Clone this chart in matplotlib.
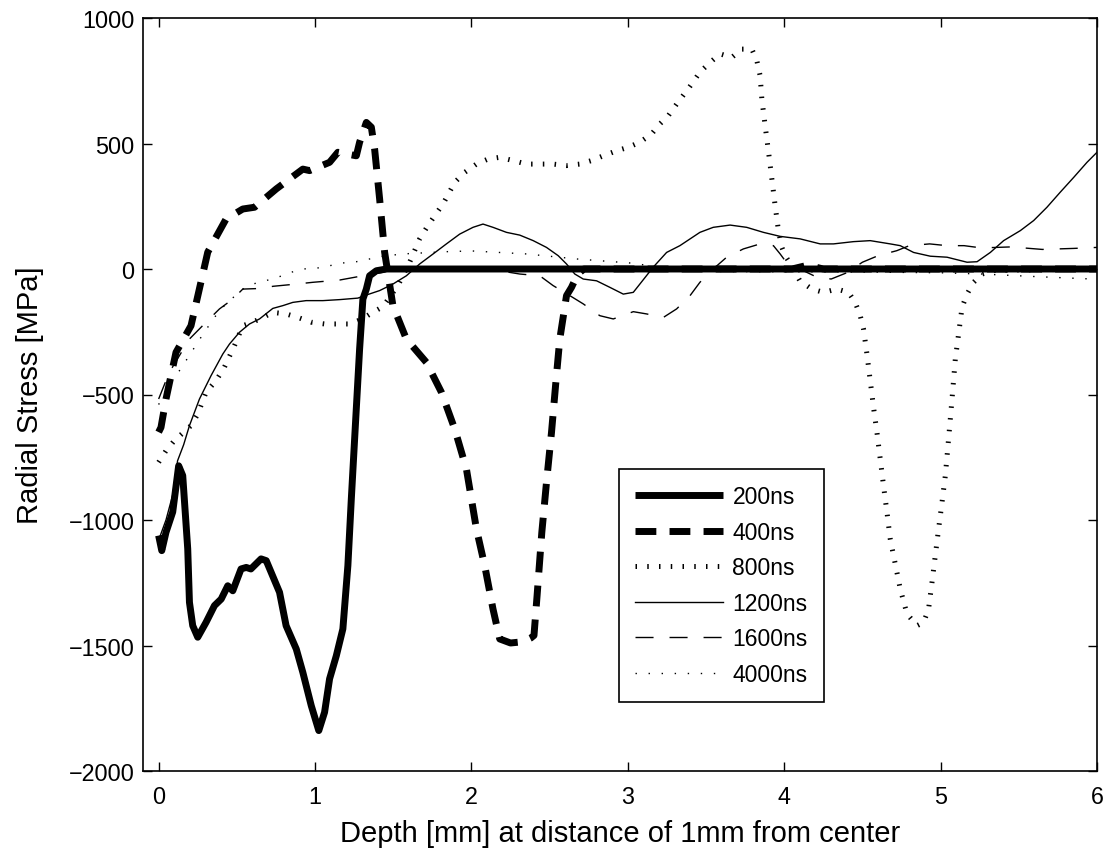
import matplotlib
matplotlib.use("Agg")
import matplotlib.pyplot as plt

plt.rcParams['font.family'] = ['Liberation Sans', 'DejaVu Sans']

# 200ns
x200 = [0, 0.02, 0.047, 0.09, 0.128, 0.154, 0.186, 0.197, 0.218, 0.25, 0.303, 0.357, 0.40, 0.442, 0.474,
        0.527, 0.56, 0.59, 0.655, 0.688, 0.773, 0.815, 0.88, 0.922, 0.976, 1.024, 1.061, 1.093, 1.136,
        1.178, 1.21, 1.232, 1.26, 1.285, 1.306, 1.328, 1.349, 1.392, 1.456, 2.0, 3.0, 4.0, 5.0, 6.0]
y200 = [-1062, -1122, -1049, -968, -784, -823, -1115, -1328, -1421, -1467, -1408, -1341, -1315, -1262, -1282,
        -1195, -1189, -1195, -1155, -1162, -1288, -1421, -1514, -1607, -1740, -1839, -1766, -1633, -1541,
        -1434, -1182, -916, -600, -319, -120, -80, -27, -7, 0, 0, 0, 0, 0, 0]

# 400ns
x400 = [0, 0.015, 0.047, 0.111, 0.207, 0.314, 0.431, 0.538, 0.613, 0.752, 0.922, 0.965, 1.093, 1.146,
        1.264, 1.285, 1.328, 1.36, 1.381, 1.413, 1.445, 1.498, 1.584, 1.712, 1.808, 1.893, 1.968, 2.032,
        2.085, 2.138, 2.181, 2.25, 2.33, 2.38, 2.40, 2.42, 2.45, 2.48, 2.512, 2.54, 2.565, 2.608, 2.64,
        2.68, 2.72, 3.0, 4.05, 4.15, 4.25, 6.0]
y400 = [-650, -631, -518, -332, -226, 67, 199, 239, 246, 319, 398, 392, 425, 465,
        451, 505, 584, 565, 478, 279, 67, -146, -279, -372, -491, -637, -797, -1036,
        -1182, -1355, -1474, -1490, -1485, -1470, -1460, -1300, -1050, -850, -651, -450, -279, -106, -73,
        -20, 0, 0, 0, 15, 0, 0]

# 800ns
x800 = [0, 0.047, 0.1, 0.207, 0.25, 0.303, 0.367, 0.42, 0.485, 0.538, 0.602, 0.666, 0.73, 0.815, 0.89,
        0.976, 1.061, 1.146, 1.221, 1.30, 1.36, 1.434, 1.53, 1.605, 1.669, 1.722, 1.765, 1.818, 1.893,
        1.957, 2.032, 2.106, 2.181, 2.266, 2.352, 2.437, 2.522, 2.608, 2.693, 2.768, 2.843, 2.928, 3.003,
        3.077, 3.152, 3.205, 3.259, 3.312, 3.40, 3.461, 3.526, 3.59, 3.665, 3.729, 3.793, 3.825, 3.846,
        3.857, 3.878, 3.9, 3.921, 3.942, 3.963, 3.985, 4.006, 4.05, 4.1, 4.177, 4.251, 4.337, 4.411,
        4.454, 4.486, 4.507, 4.529, 4.55, 4.571, 4.593, 4.614, 4.635, 4.657, 4.678, 4.71, 4.742, 4.785,
        4.849, 4.891, 4.923, 4.945, 4.966, 4.987, 5.009, 5.03, 5.051, 5.073, 5.094, 5.115, 5.137, 5.169,
        5.211, 5.265, 5.35, 6.0]
y800 = [-770, -724, -684, -624, -578, -491, -445, -392, -305, -226, -212, -193, -173, -179, -193,
        -212, -219, -219, -219, -200, -176, -150, -66, 27, 120, 173, 212, 259, 345,
        385, 418, 438, 445, 432, 418, 418, 418, 412, 418, 432, 451, 471, 485,
        505, 538, 578, 611, 657, 730, 784, 823, 857, 843, 876, 876, 830, 770,
        677, 571, 465, 359, 252, 153, 86, 53, 10, -47, -80, -93, -80, -93,
        -133, -186, -239, -339, -445, -551, -651, -757, -863, -969, -1076, -1175, -1275, -1374,
        -1421, -1408, -1355, -1248, -1142, -1036, -930, -824, -677, -518, -359, -259, -153, -100,
        -53, -20, -5, 0]

# 1200ns
x1200 = [0, 0.047, 0.09, 0.121, 0.16, 0.197, 0.261, 0.335, 0.41, 0.453, 0.517, 0.581, 0.645, 0.73, 0.794,
         0.858, 0.943, 1.05, 1.157, 1.274, 1.317, 1.413, 1.498, 1.584, 1.669, 1.755, 1.84, 1.925, 2.01,
         2.074, 2.138, 2.224, 2.309, 2.395, 2.48, 2.555, 2.608, 2.661, 2.715, 2.8, 2.885, 2.971, 3.035,
         3.077, 3.162, 3.248, 3.333, 3.461, 3.546, 3.654, 3.76, 3.867, 3.974, 4.102, 4.23, 4.315, 4.443,
         4.55, 4.678, 4.742, 4.827, 4.934, 5.041, 5.169, 5.233, 5.318, 5.403, 5.51, 5.595, 5.68, 5.765,
         5.851, 5.936, 6.0]
y1200 = [-1080, -1000, -900, -764, -700, -624, -518, -425, -339, -299, -252, -219, -199, -157, -146,
         -133, -126, -126, -122, -116, -106, -86, -60, -27, 20, 60, 100, 139, 166,
         179, 166, 146, 135, 113, 86, 53, 20, -20, -40, -47, -73, -100, -93,
         -60, 7, 66, 93, 146, 166, 175, 166, 146, 130, 120, 100, 100, 109,
         113, 100, 93, 66, 51, 47, 27, 29, 66, 113, 153, 193, 246, 306,
         365, 425, 465]

# 1600ns
x1600 = [0, 0.068, 0.197, 0.303, 0.389, 0.474, 0.538, 0.677, 0.73, 0.88, 0.986, 1.157, 1.306, 1.434, 1.52,
         1.7, 2.0, 2.181, 2.309, 2.437, 2.522, 2.629, 2.715, 2.821, 2.907, 3.035, 3.12, 3.227, 3.312,
         3.398, 3.461, 3.546, 3.632, 3.739, 3.846, 3.931, 3.974, 4.006, 4.1, 4.2, 4.3, 4.4, 4.5, 4.6,
         4.72, 4.8, 4.93, 5.04, 5.15, 5.26, 5.45, 5.65, 5.85, 6.0]
y1600 = [-518, -412, -279, -212, -159, -120, -80, -77, -69, -60, -53, -44, -27, -13, 0,
         0, 0, -7, -20, -27, -66, -106, -139, -186, -199, -170, -179, -193, -159,
         -106, -53, 0, 47, 80, 100, 93, 60, 33, 0, -30, -40, -15, 27, 53,
         73, 93, 100, 93, 93, 84, 88, 78, 82, 86]

# 4000ns
x4000 = [0, 0.068, 0.133, 0.175, 0.271, 0.314, 0.389, 0.474, 0.538, 0.602, 0.688, 0.762, 0.848, 0.922,
         1.008, 1.093, 1.178, 1.264, 1.434, 1.562, 1.84, 2.0, 2.352, 2.672, 3.013, 3.3, 3.6, 4.0, 4.5,
         5.0, 5.265, 5.6, 5.97, 6.0]
y4000 = [-540, -460, -405, -365, -272, -232, -165, -115, -80, -60, -46, -33, -13, 0,
         3, 13, 24, 29, 51, 60, 69, 72, 60, 40, 24, 0, -10, -11, -12,
         -15, -20, -30, -40, -40]

fig = plt.figure(figsize=(11.1, 8.54), dpi=100)
ax = fig.add_axes([143 / 1110, 1 - 772 / 854, (1097 - 143) / 1110, (772 - 19) / 854])

ax.plot(x200, y200, color='k', lw=5, solid_capstyle='butt', label='200ns')
ax.plot(x400, y400, color='k', lw=5, linestyle=(0, (3, 1.9)), label='400ns')
ax.plot(x800, y800, color='k', lw=3.6, linestyle=(0, (0.3, 2.05)), label='800ns')
ax.plot(x1200, y1200, color='k', lw=1.0, label='1200ns')
ax.plot(x1600, y1600, color='k', lw=1.0, linestyle=(0, (13, 11.5)), label='1600ns')
ax.plot(x4000, y4000, color='k', lw=1.0, linestyle=(0, (1, 8.4)), label='4000ns')

ax.set_xlim(-0.1, 6)
ax.set_ylim(-2000, 1000)
ax.set_xticks(range(0, 7))
ax.set_yticks(range(-2000, 1001, 500))
ax.tick_params(direction='in', length=6.5, width=1, top=True, right=True, labelsize=16.8)
ax.tick_params(axis='x', pad=10)
ax.tick_params(axis='y', pad=6)
for s in ax.spines.values():
    s.set_linewidth(1.2)

ax.set_xlabel('Depth [mm] at distance of 1mm from center', fontsize=21, labelpad=8)
ax.set_ylabel('Radial Stress [MPa]', fontsize=21, labelpad=18)

leg = ax.legend(loc='upper left', bbox_to_anchor=(619 / 1110, 1 - 470 / 854),
                bbox_transform=fig.transFigure, borderaxespad=0, fontsize=16.5,
                handlelength=3.85, handletextpad=0.4, borderpad=0.7, labelspacing=0.55,
                fancybox=False, framealpha=1)
leg.get_frame().set_edgecolor('k')
leg.get_frame().set_linewidth(1.2)

fig.savefig('out.png', dpi=100)
